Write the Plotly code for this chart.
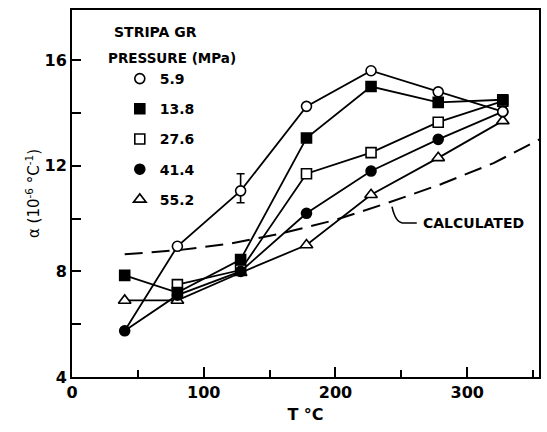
import plotly.graph_objects as go

# ---- data ----
temps = [40, 80, 128, 178, 227, 278, 327]
p5_9 = [5.75, 8.95, 11.05, 14.25, 15.6, 14.8, 14.05]
p13_8 = [7.85, 7.2, 8.45, 13.05, 15.0, 14.4, 14.5]
p27_6 = [None, 7.5, 8.05, 11.7, 12.5, 13.65, 14.45]
p41_4 = [5.75, 7.1, 8.0, 10.2, 11.8, 13.0, 14.05]
p55_2 = [6.9, 6.9, 7.95, 9.0, 10.9, 12.3, 13.7]
err_plus_5_9 = [None, None, 0.65, None, None, None, None]
err_minus_5_9 = [None, None, 0.45, None, None, None, None]

calc_t = [40, 80, 120, 160, 200, 240, 280, 320, 355]
calc_a = [8.65, 8.8, 9.05, 9.45, 9.95, 10.6, 11.3, 12.1, 13.0]

legend_names = ["5.9", "13.8", "27.6", "41.4", "55.2"]
x_ticks = [0, 100, 200, 300]
y_ticks = [4, 8, 12, 16]

FONT_B = "DejaVu Sans"
BLACK = "black"

fig = go.Figure()

# calculated curve
fig.add_trace(go.Scatter(x=calc_t, y=calc_a, mode="lines",
                         line=dict(color=BLACK, width=2, dash="18px,9px"),
                         showlegend=False, hoverinfo="skip"))

styles = {
    "5.9": dict(symbol="circle", color="white", size=10),
    "13.8": dict(symbol="square", color=BLACK, size=10),
    "27.6": dict(symbol="square", color="white", size=10),
    "41.4": dict(symbol="circle", color=BLACK, size=10),
    "55.2": dict(symbol="triangle-up", color="white", size=11),
}

def add_series(name, y, **extra):
    st = styles[name]
    fig.add_trace(go.Scatter(
        x=temps, y=y, mode="lines+markers", showlegend=False,
        line=dict(color=BLACK, width=1.8),
        marker=dict(symbol=st["symbol"], size=st["size"], color=st["color"],
                    line=dict(color=BLACK, width=1.6), **extra.pop("marker_extra", {})),
        **extra))

add_series("27.6", p27_6)
add_series("13.8", p13_8)
add_series("55.2", p55_2)
add_series("41.4", p41_4)
add_series("5.9", p5_9,
           marker_extra=dict(opacity=[0, 1, 1, 1, 1, 1, 1]),
           error_y=dict(type="data", array=err_plus_5_9, arrayminus=err_minus_5_9,
                        symmetric=False, color=BLACK, thickness=1.6, width=4))

# legend-only marker entries
for i, name in enumerate(legend_names):
    st = styles[name]
    fig.add_trace(go.Scatter(
        x=[None], y=[None], mode="markers", name=name, legendgroup=f"g{i}",
        marker=dict(symbol=st["symbol"], size=st["size"], color=st["color"],
                    line=dict(color=BLACK, width=1.6))))

fig.add_annotation(text="STRIPA GR", xref="paper", yref="paper",
                   x=(112 - 72) / 469, y=(377 - 32) / 367, xanchor="left", yanchor="middle",
                   showarrow=False, font=dict(family=FONT_B, size=14, color=BLACK, weight="bold"))
fig.add_annotation(text="PRESSURE (MPa)", xref="paper", yref="paper",
                   x=(106 - 72) / 469, y=(377 - 58) / 367, xanchor="left", yanchor="middle",
                   showarrow=False, font=dict(family=FONT_B, size=13.5, color=BLACK, weight="bold"))

fig.add_annotation(text="CALCULATED", x=265, y=9.83, xanchor="left", yanchor="middle",
                   showarrow=False, font=dict(family=FONT_B, size=14, color=BLACK, weight="bold"))
fig.add_shape(type="path", path="M 242.9,10.45 Q 245.5,9.86 251,9.83 L 261.7,9.83",
              line=dict(color=BLACK, width=1.6))

axis_common = dict(showline=True, linecolor=BLACK, linewidth=2, mirror=True,
                   ticks="inside", tickcolor=BLACK, tickwidth=1.6, showgrid=False,
                   zeroline=False,
                   tickfont=dict(family=FONT_B, size=16, color=BLACK, weight="bold"))

fig.update_layout(
    width=547, height=432,
    margin=dict(l=72, r=6, t=10, b=55),
    paper_bgcolor="white", plot_bgcolor="white",
    xaxis=dict(range=[0, 354.5], tickvals=x_ticks, ticklen=10,
               minor=dict(dtick=50, ticks="inside", ticklen=7, tickcolor=BLACK, tickwidth=1.6),
               title=dict(text="T °C", standoff=8,
                          font=dict(family=FONT_B, size=16, color=BLACK, weight="bold")),
               **axis_common),
    yaxis=dict(range=[4, 17.9], tickvals=y_ticks, ticklen=9,
               minor=dict(dtick=2, ticks="inside", ticklen=9, tickcolor=BLACK, tickwidth=1.6),
               title=dict(text="α (10<sup>-6</sup> °C<sup>-1</sup>)", standoff=1,
                          font=dict(family=FONT_B, size=15, color=BLACK)),
               **axis_common),
    legend=dict(x=(120 - 72) / 469, y=(377 - 63) / 367, xanchor="left", yanchor="top",
                bgcolor="rgba(0,0,0,0)", borderwidth=0, itemwidth=30, tracegroupgap=9,
                font=dict(family=FONT_B, size=14, color=BLACK, weight="bold")),
    showlegend=True,
)

fig.write_html("out.html")
